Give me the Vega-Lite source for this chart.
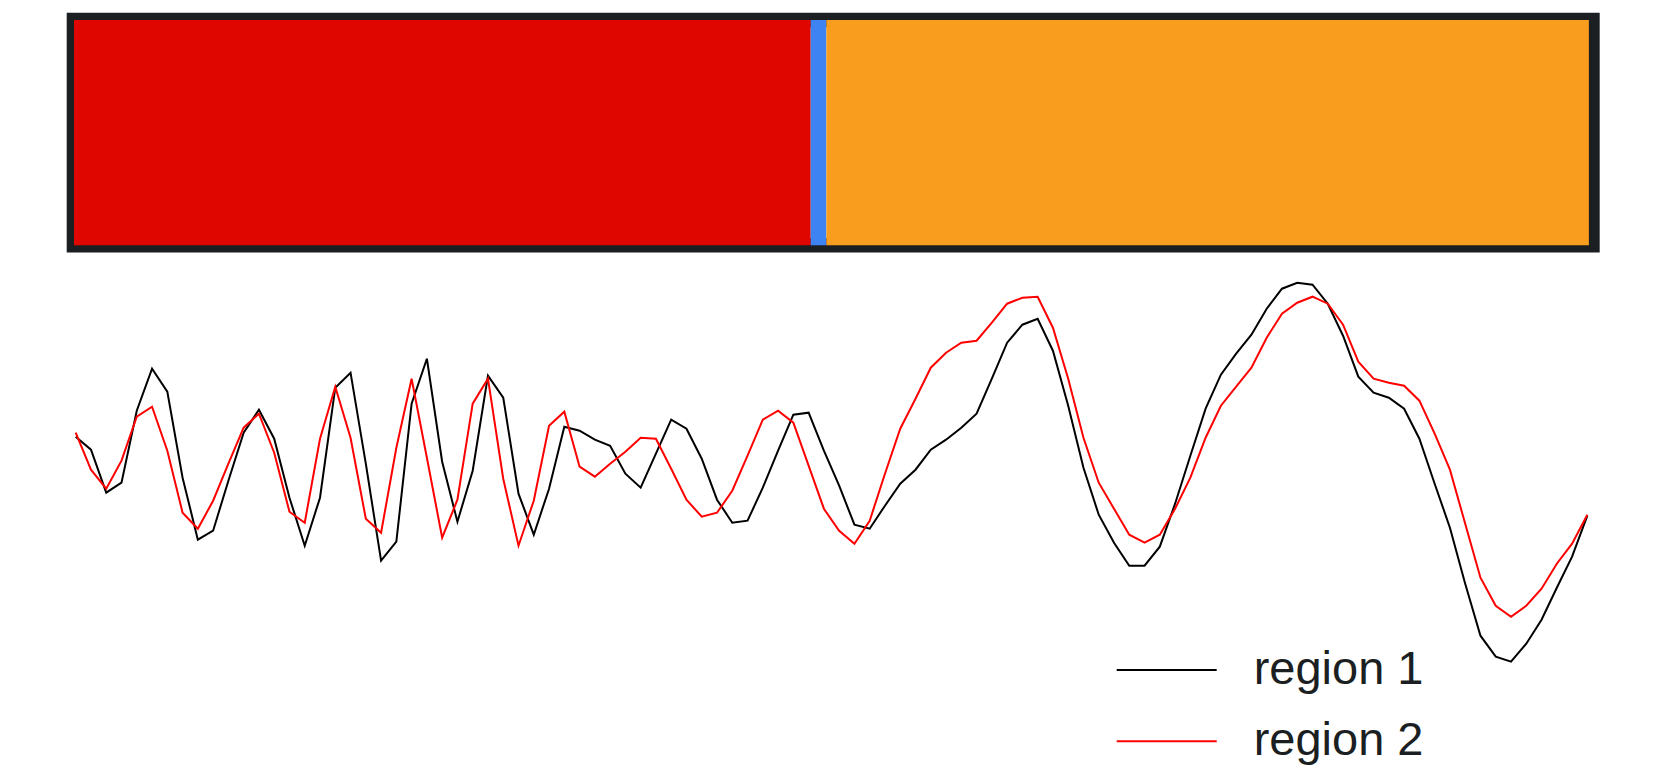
{
  "$schema": "https://vega.github.io/schema/vega-lite/v6.json",
  "background": "white",
  "padding": {"left": 66, "top": 12, "right": 0, "bottom": 0},
  "autosize": {"type": "pad"},
  "spacing": 12,
  "config": {"view": {"stroke": null}, "font": "Liberation Sans"},
  "resolve": {"scale": {"color": "independent", "x": "independent"}, "legend": {"color": "independent"}},
  "datasets": {
    "bar": [
      {"segment": "A", "order": 1, "share": 48.52},
      {"segment": "B", "order": 2, "share": 1.03},
      {"segment": "C", "order": 3, "share": 50.22}
    ],
    "series": [
      {"t": 0, "region 1": 0.34, "region 2": 0.38},
      {"t": 1, "region 1": 0.21, "region 2": 0.01},
      {"t": 2, "region 1": -0.22, "region 2": -0.18},
      {"t": 3, "region 1": -0.12, "region 2": 0.10},
      {"t": 4, "region 1": 0.60, "region 2": 0.54},
      {"t": 5, "region 1": 1.02, "region 2": 0.64},
      {"t": 6, "region 1": 0.79, "region 2": 0.20},
      {"t": 7, "region 1": -0.07, "region 2": -0.42},
      {"t": 8, "region 1": -0.69, "region 2": -0.58},
      {"t": 9, "region 1": -0.60, "region 2": -0.30},
      {"t": 10, "region 1": -0.10, "region 2": 0.07},
      {"t": 11, "region 1": 0.38, "region 2": 0.43},
      {"t": 12, "region 1": 0.61, "region 2": 0.57},
      {"t": 13, "region 1": 0.32, "region 2": 0.18},
      {"t": 14, "region 1": -0.27, "region 2": -0.41},
      {"t": 15, "region 1": -0.75, "region 2": -0.52},
      {"t": 16, "region 1": -0.27, "region 2": 0.32},
      {"t": 17, "region 1": 0.83, "region 2": 0.84},
      {"t": 18, "region 1": 0.98, "region 2": 0.33},
      {"t": 19, "region 1": 0.07, "region 2": -0.48},
      {"t": 20, "region 1": -0.90, "region 2": -0.62},
      {"t": 21, "region 1": -0.71, "region 2": 0.23},
      {"t": 22, "region 1": 0.67, "region 2": 0.92},
      {"t": 23, "region 1": 1.12, "region 2": 0.13},
      {"t": 24, "region 1": 0.09, "region 2": -0.67},
      {"t": 25, "region 1": -0.51, "region 2": -0.29},
      {"t": 26, "region 1": 0.00, "region 2": 0.67},
      {"t": 27, "region 1": 0.95, "region 2": 0.92},
      {"t": 28, "region 1": 0.73, "region 2": -0.08},
      {"t": 29, "region 1": -0.23, "region 2": -0.75},
      {"t": 30, "region 1": -0.64, "region 2": -0.30},
      {"t": 31, "region 1": -0.18, "region 2": 0.45},
      {"t": 32, "region 1": 0.44, "region 2": 0.59},
      {"t": 33, "region 1": 0.40, "region 2": 0.04},
      {"t": 34, "region 1": 0.31, "region 2": -0.06},
      {"t": 35, "region 1": 0.25, "region 2": 0.07},
      {"t": 36, "region 1": -0.03, "region 2": 0.19},
      {"t": 37, "region 1": -0.17, "region 2": 0.33},
      {"t": 38, "region 1": 0.17, "region 2": 0.32},
      {"t": 39, "region 1": 0.51, "region 2": 0.02},
      {"t": 40, "region 1": 0.42, "region 2": -0.29},
      {"t": 41, "region 1": 0.12, "region 2": -0.46},
      {"t": 42, "region 1": -0.29, "region 2": -0.42},
      {"t": 43, "region 1": -0.52, "region 2": -0.20},
      {"t": 44, "region 1": -0.50, "region 2": 0.15},
      {"t": 45, "region 1": -0.17, "region 2": 0.51},
      {"t": 46, "region 1": 0.20, "region 2": 0.60},
      {"t": 47, "region 1": 0.56, "region 2": 0.48},
      {"t": 48, "region 1": 0.58, "region 2": 0.05},
      {"t": 49, "region 1": 0.20, "region 2": -0.38},
      {"t": 50, "region 1": -0.15, "region 2": -0.60},
      {"t": 51, "region 1": -0.54, "region 2": -0.73},
      {"t": 52, "region 1": -0.58, "region 2": -0.50},
      {"t": 53, "region 1": -0.35, "region 2": -0.03},
      {"t": 54, "region 1": -0.13, "region 2": 0.42},
      {"t": 55, "region 1": 0.01, "region 2": 0.72},
      {"t": 56, "region 1": 0.21, "region 2": 1.03},
      {"t": 57, "region 1": 0.31, "region 2": 1.18},
      {"t": 58, "region 1": 0.43, "region 2": 1.28},
      {"t": 59, "region 1": 0.57, "region 2": 1.30},
      {"t": 60, "region 1": 0.92, "region 2": 1.48},
      {"t": 61, "region 1": 1.28, "region 2": 1.67},
      {"t": 62, "region 1": 1.46, "region 2": 1.73},
      {"t": 63, "region 1": 1.52, "region 2": 1.74},
      {"t": 64, "region 1": 1.20, "region 2": 1.43},
      {"t": 65, "region 1": 0.65, "region 2": 0.92},
      {"t": 66, "region 1": 0.03, "region 2": 0.33},
      {"t": 67, "region 1": -0.44, "region 2": -0.12},
      {"t": 68, "region 1": -0.72, "region 2": -0.38},
      {"t": 69, "region 1": -0.95, "region 2": -0.64},
      {"t": 70, "region 1": -0.95, "region 2": -0.72},
      {"t": 71, "region 1": -0.76, "region 2": -0.64},
      {"t": 72, "region 1": -0.33, "region 2": -0.38},
      {"t": 73, "region 1": 0.15, "region 2": -0.07},
      {"t": 74, "region 1": 0.62, "region 2": 0.33},
      {"t": 75, "region 1": 0.96, "region 2": 0.65},
      {"t": 76, "region 1": 1.17, "region 2": 0.84},
      {"t": 77, "region 1": 1.36, "region 2": 1.03},
      {"t": 78, "region 1": 1.62, "region 2": 1.33},
      {"t": 79, "region 1": 1.82, "region 2": 1.57},
      {"t": 80, "region 1": 1.88, "region 2": 1.68},
      {"t": 81, "region 1": 1.86, "region 2": 1.74},
      {"t": 82, "region 1": 1.67, "region 2": 1.67},
      {"t": 83, "region 1": 1.35, "region 2": 1.46},
      {"t": 84, "region 1": 0.94, "region 2": 1.09},
      {"t": 85, "region 1": 0.78, "region 2": 0.92},
      {"t": 86, "region 1": 0.73, "region 2": 0.88},
      {"t": 87, "region 1": 0.62, "region 2": 0.85},
      {"t": 88, "region 1": 0.32, "region 2": 0.70},
      {"t": 89, "region 1": -0.13, "region 2": 0.37},
      {"t": 90, "region 1": -0.57, "region 2": 0.01},
      {"t": 91, "region 1": -1.13, "region 2": -0.53},
      {"t": 92, "region 1": -1.65, "region 2": -1.07},
      {"t": 93, "region 1": -1.86, "region 2": -1.35},
      {"t": 94, "region 1": -1.91, "region 2": -1.46},
      {"t": 95, "region 1": -1.73, "region 2": -1.35},
      {"t": 96, "region 1": -1.49, "region 2": -1.18},
      {"t": 97, "region 1": -1.17, "region 2": -0.93},
      {"t": 98, "region 1": -0.86, "region 2": -0.73},
      {"t": 99, "region 1": -0.45, "region 2": -0.44}
    ]
  },
  "vconcat": [
    {
      "width": 1518.4,
      "height": 225.3,
      "view": {"stroke": "#1b1f22", "strokeWidth": 14.6},
      "data": {"name": "bar"},
      "transform": [
        {"stack": "share", "groupby": [], "sort": [{"field": "order", "order": "ascending"}], "as": ["s0", "s1"]}
      ],
      "mark": {"type": "rect"},
      "encoding": {
        "x": {"field": "s0", "type": "quantitative", "scale": {"domain": [0, 100], "nice": false, "zero": false}, "axis": null},
        "x2": {"field": "s1"},
        "color": {
          "field": "segment",
          "type": "nominal",
          "scale": {"domain": ["A", "B", "C"], "range": ["#e00600", "#3d84f2", "#f99d1f"]},
          "legend": null
        }
      }
    },
    {
      "width": 1518.4,
      "height": 500,
      "data": {"name": "series"},
      "transform": [{"fold": ["region 1", "region 2"], "as": ["region", "v"]}],
      "mark": {"type": "line", "strokeWidth": 2},
      "encoding": {
        "x": {"field": "t", "type": "quantitative", "scale": {"domain": [-0.111, 99.33], "nice": false, "zero": false}, "axis": null},
        "y": {"field": "v", "type": "quantitative", "scale": {"domain": [-2.943, 2.057], "nice": false, "zero": false}, "axis": null},
        "color": {
          "field": "region",
          "type": "nominal",
          "scale": {"domain": ["region 1", "region 2"], "range": ["#000000", "#ff0000"]},
          "legend": {
            "orient": "none",
            "legendX": 1041.7,
            "legendY": 379,
            "title": null,
            "padding": 0,
            "symbolType": "M-2,0H2",
            "symbolSize": 2500,
            "symbolStrokeWidth": 2,
            "symbolOffset": 25,
            "labelFont": "Liberation Sans",
            "labelFontSize": 47,
            "labelColor": "#1b1f22",
            "labelOffset": 61,
            "labelLimit": 0,
            "rowPadding": 22.2
          }
        }
      }
    }
  ]
}
